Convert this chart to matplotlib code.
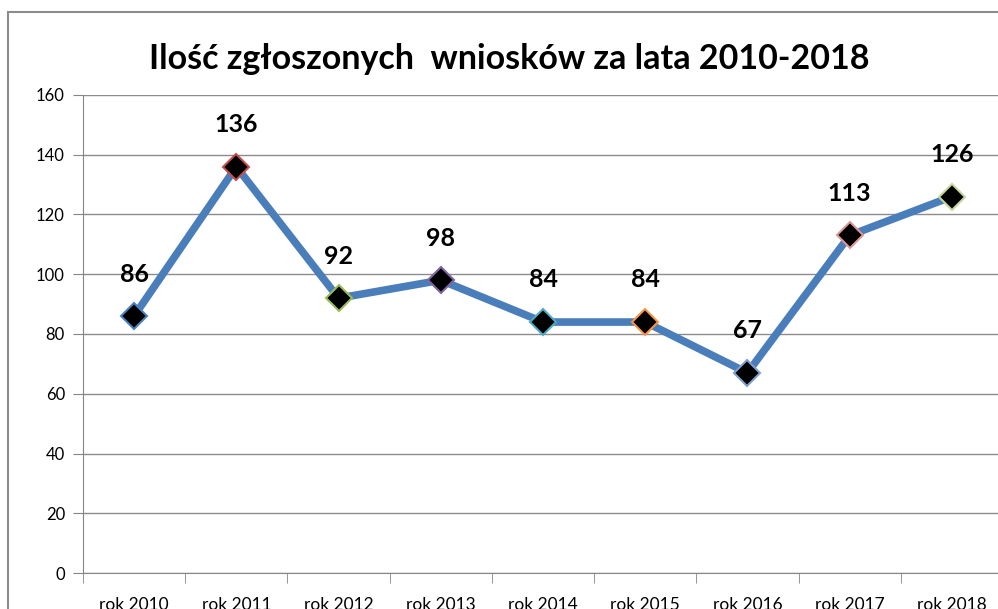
import matplotlib
matplotlib.use("Agg")
from matplotlib import pyplot as plt
from matplotlib.patches import Rectangle

# dane
categories = ["rok 2010", "rok 2011", "rok 2012", "rok 2013", "rok 2014",
              "rok 2015", "rok 2016", "rok 2017", "rok 2018"]
values = [86, 136, 92, 98, 84, 84, 67, 113, 126]
edge_colors = ["#4F81BD", "#C0504D", "#9BBB59", "#8064A2", "#4BACC6",
               "#F79646", "#7F9FCF", "#D99694", "#C3D69B"]
yticks = [0, 20, 40, 60, 80, 100, 120, 140, 160]

plt.rcParams['font.family'] = ['Lato', 'DejaVu Sans']

fig = plt.figure(figsize=(9.98, 6.09), dpi=100)
# ramka wykresu
fig.patches.append(Rectangle((8 / 998, -0.1), 1.2, 1 - 12 / 609 + 0.1,
                             transform=fig.transFigure, fill=False,
                             edgecolor="#8C8C8C", linewidth=1.5))

ax = fig.add_axes([83 / 998, 1 - 573 / 609, 920 / 998, (573 - 95) / 609])
x = list(range(len(values)))
ax.plot(x, values, color="#4A7EBB", linewidth=5.5, zorder=2)
for xi, v, ec in zip(x, values, edge_colors):
    ax.plot(xi, v, marker="D", markersize=13, markerfacecolor="black",
            markeredgecolor=ec, markeredgewidth=1.5, zorder=3)
    ax.annotate(str(v), (xi, v), xytext=(0, 22), textcoords="offset points",
                ha="center", va="bottom", fontsize=18, fontweight="bold")

ax.set_xlim(-0.5, len(values) - 0.5)
ax.set_ylim(0, 160)
ax.set_yticks(yticks)
ax.set_xticks(x)
ax.set_xticklabels(categories, fontsize=12.5)
ax.set_xticks([i - 0.5 for i in range(len(values) + 1)], minor=True)
ax.tick_params(axis="x", which="major", length=0, pad=17)
ax.tick_params(axis="x", which="minor", length=7, color="#868686", direction="out")
ax.tick_params(axis="y", length=7, color="#868686", labelsize=12, pad=6)
ax.grid(axis="y", color="#8C8C8C", linewidth=1)
ax.set_axisbelow(True)
for s in ["top", "right"]:
    ax.spines[s].set_visible(False)
ax.spines["left"].set_color("#868686")
ax.spines["bottom"].set_color("#868686")

fig.text(509 / 998, 1 - 59 / 609, "Ilość zgłoszonych  wniosków za lata 2010-2018",
         ha="center", va="center", fontsize=24.5, fontweight="bold")

fig.savefig("out.png", dpi=100)
